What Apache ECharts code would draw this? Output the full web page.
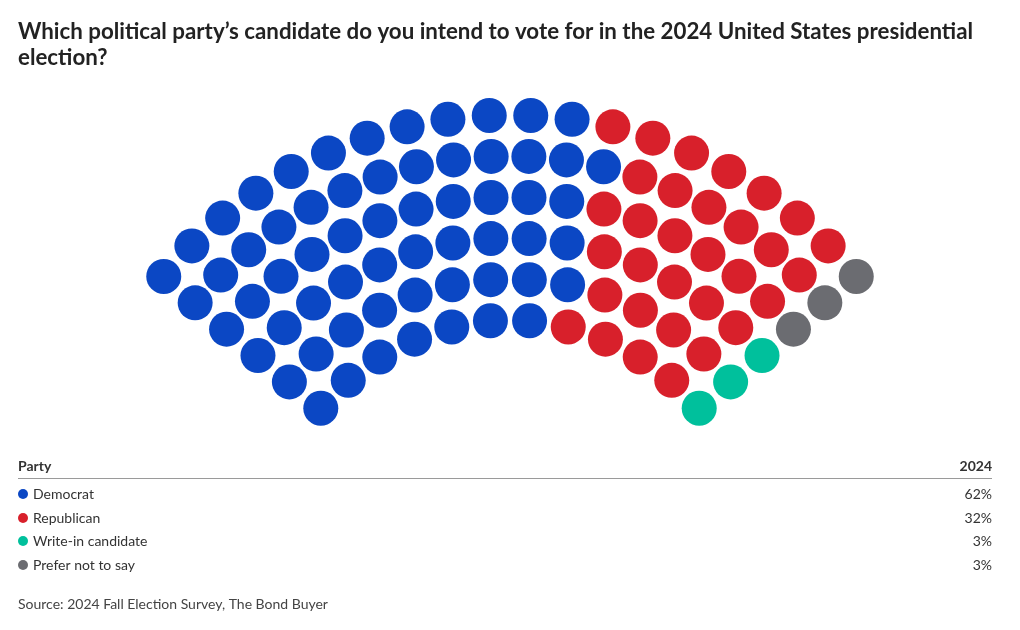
<!DOCTYPE html>
<html>
<head>
<meta charset="utf-8">
<script src="https://cdn.jsdelivr.net/npm/echarts@6/dist/echarts.min.js"></script>
<style>
  html, body { margin: 0; padding: 0; background: #ffffff; }
  #chart { width: 1020px; height: 630px; }
</style>
</head>
<body>
<div id="chart"></div>
<script>
// ---- data ----
const titleText = "Which political party’s candidate do you intend to vote for in the 2024 United States presidential\nelection?";
const parties = ["Democrat", "Republican", "Write-in candidate", "Prefer not to say"];
const shares = [62, 32, 3, 3];           // percent = seats out of 100
const partyColors = ["#0b47c4", "#d8202b", "#00c09c", "#6b6c71"];
const columnHeader = "Party";
const yearHeader = "2024";
const sourceText = "Source: 2024 Fall Election Survey, The Bond Buyer";

// ---- parliament layout (seats per row, inner to outer) ----
const rowSeats = [12, 14, 16, 18, 20, 20];
const innerR = 247, outerR = 452;
const startAng = 140, endAng = 40;

const seats = [];
rowSeats.forEach((n, i) => {
  const r = innerR + i * (outerR - innerR) / (rowSeats.length - 1);
  for (let j = 0; j < n; j++) {
    const a = startAng - j * (startAng - endAng) / (n - 1);
    seats.push({ r: r, a: a, row: i });
  }
});
seats.sort((p, q) => {
  const d = Math.round((q.a - p.a) * 1e6);
  if (d !== 0) return d;
  return p.row - q.row;
});
const seriesData = parties.map(() => []);
let idx = 0;
shares.forEach((s, k) => {
  for (let m = 0; m < s; m++, idx++) {
    seriesData[k].push([seats[idx].r, seats[idx].a]);
  }
});

// ---- legend table via graphic ----
const font = "Lato, 'Noto Sans', sans-serif";
const graphics = [];
graphics.push({ type: 'text', x: 18, y: 466, style: { text: columnHeader, font: "bold 14px " + font, fill: '#333333', textVerticalAlign: 'middle' } });
graphics.push({ type: 'text', x: 992, y: 466, style: { text: yearHeader, font: "bold 14px " + font, fill: '#333333', textAlign: 'right', textVerticalAlign: 'middle' } });
graphics.push({ type: 'line', shape: { x1: 18, y1: 478.5, x2: 992, y2: 478.5 }, style: { stroke: '#9a9a9a', lineWidth: 1 } });
const rowY = [494, 518, 541, 565];
parties.forEach((p, k) => {
  graphics.push({ type: 'circle', shape: { cx: 23, cy: rowY[k], r: 5 }, style: { fill: partyColors[k] } });
  graphics.push({ type: 'text', x: 33, y: rowY[k], style: { text: p, font: "14px " + font, fill: '#333333', textVerticalAlign: 'middle' } });
  graphics.push({ type: 'text', x: 992, y: rowY[k], style: { text: shares[k] + '%', font: "14px " + font, fill: '#333333', textAlign: 'right', textVerticalAlign: 'middle' } });
});
graphics.push({ type: 'text', x: 18, y: 604, style: { text: sourceText, font: "14px " + font, fill: '#444444', textVerticalAlign: 'middle' } });

const chart = echarts.init(document.getElementById('chart'), null, { renderer: 'canvas' });
chart.setOption({
  backgroundColor: '#ffffff',
  animation: false,
  title: {
    text: titleText,
    left: 18, top: 19, padding: 0,
    textStyle: { fontFamily: font, fontWeight: 'bold', fontSize: 22.3, color: '#222222', lineHeight: 26 }
  },
  polar: { center: [510, 567], radius: outerR },
  angleAxis: {
    type: 'value', min: 0, max: 360, startAngle: 0, clockwise: false,
    axisLine: { show: false }, axisTick: { show: false }, axisLabel: { show: false }, splitLine: { show: false }
  },
  radiusAxis: {
    type: 'value', min: 0, max: outerR,
    axisLine: { show: false }, axisTick: { show: false }, axisLabel: { show: false }, splitLine: { show: false }
  },
  series: parties.map((p, k) => ({
    name: p,
    type: 'scatter',
    coordinateSystem: 'polar',
    symbol: 'circle',
    symbolSize: 35,
    itemStyle: { color: partyColors[k], opacity: 1 },
    emphasis: { disabled: true },
    data: seriesData[k]
  })),
  graphic: graphics
});
</script>
</body>
</html>
